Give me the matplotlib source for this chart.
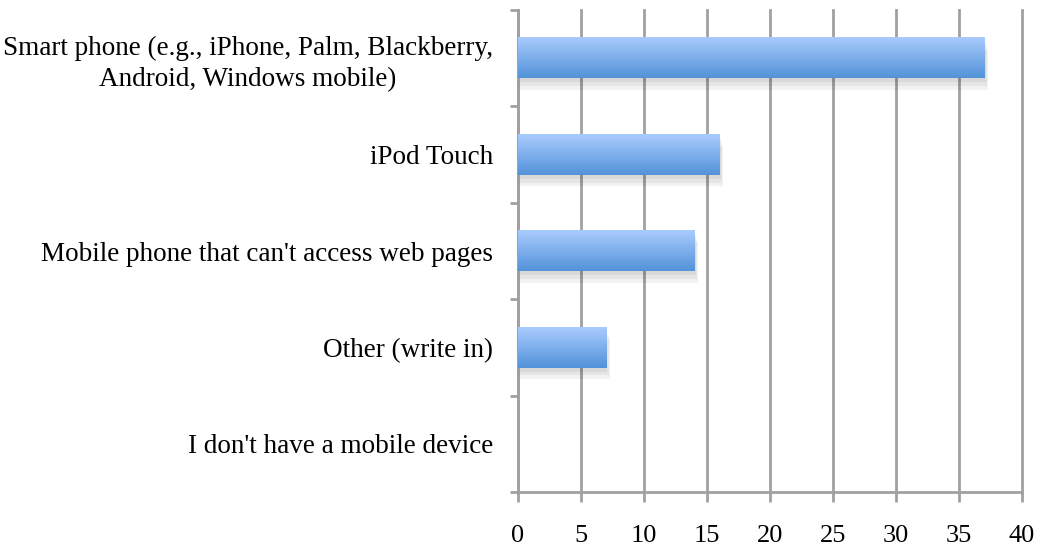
import numpy as np
import matplotlib.pyplot as plt
from matplotlib.colors import LinearSegmentedColormap

categories = ["Smart phone (e.g., iPhone, Palm, Blackberry,\nAndroid, Windows mobile)",
              "iPod Touch",
              "Mobile phone that can't access web pages",
              "Other (write in)",
              "I don't have a mobile device"]
counts = [37, 16, 14, 7, 0]
xticks = [0, 5, 10, 15, 20, 25, 30, 35, 40]

plt.rcParams['font.family'] = 'serif'
plt.rcParams['font.serif'] = ['Liberation Serif', 'DejaVu Serif']

fig = plt.figure(figsize=(10.41, 5.48), dpi=100)
ax = fig.add_axes([0.4976, 0.102, 0.4842, 0.8798])

ypos = np.arange(len(categories))[::-1]
bars = ax.barh(ypos, counts, height=0.42, color='none', zorder=3)

# vertical gradient fill + soft shadow for each bar
grad_cmap = LinearSegmentedColormap.from_list('bar', ['#5393d9', '#a9cbfe'])
grad = np.linspace(0, 1, 64).reshape(-1, 1)
for b in bars:
    w = b.get_width()
    if w <= 0:
        continue
    x0, y0, h = b.get_x(), b.get_y(), b.get_height()
    for k, a in enumerate([0.05, 0.05, 0.05]):
        d = 0.04 * (k + 1)
        ax.add_patch(plt.Rectangle((x0, y0 - d), w + 2.5 * d, h, color='#000000',
                                   alpha=a, lw=0, zorder=2))
    ax.imshow(grad, cmap=grad_cmap, aspect='auto', origin='lower',
              extent=(x0, x0 + w, y0, y0 + h), zorder=3)

ax.set_xlim(0, 40)
ax.set_ylim(-0.5, len(categories) - 0.5)
ax.set_xticks(xticks)
ax.set_xticklabels([str(t) for t in xticks], fontsize=19)
ax.set_yticks(ypos)
ax.set_yticklabels(categories, fontsize=19.5, multialignment='center', linespacing=1.3)
ax.set_yticks(np.arange(-0.5, len(categories)), minor=True)

ax.tick_params(axis='y', which='major', length=0, pad=18)
ax.tick_params(axis='y', which='minor', length=6, width=2, color='#a0a0a0', direction='out')
ax.tick_params(axis='x', length=7, width=2, color='#a0a0a0', pad=17)

ax.grid(axis='x', color='#a0a0a0', lw=2, zorder=1)
for line in ax.get_xgridlines():
    line.set_clip_on(False)
for side in ['top', 'right']:
    ax.spines[side].set_visible(False)
for side in ['left', 'bottom']:
    ax.spines[side].set_color('#a0a0a0')
    ax.spines[side].set_linewidth(2)

fig.savefig('out.png', dpi=100)
